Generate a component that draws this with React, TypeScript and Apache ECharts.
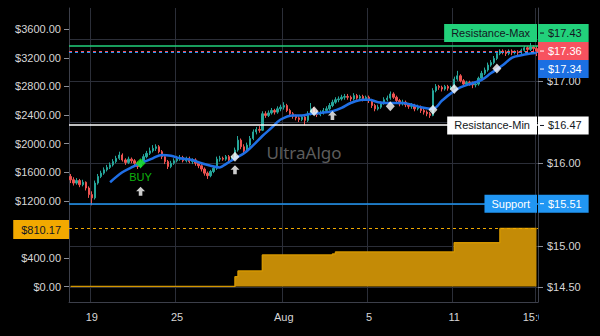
import React, { useEffect, useRef } from 'react';
import * as echarts from 'echarts';

// ---------- data ----------
const tradingDays = [
  '2022-07-18', '2022-07-19', '2022-07-20', '2022-07-21', '2022-07-22',
  '2022-07-25', '2022-07-26', '2022-07-27', '2022-07-28', '2022-07-29',
  '2022-08-01', '2022-08-02', '2022-08-03', '2022-08-04', '2022-08-05',
  '2022-08-08', '2022-08-09', '2022-08-10', '2022-08-11', '2022-08-12',
  '2022-08-15', '2022-08-16',
];
const sessionHours = ['09:30', '10:00', '11:00', '12:00', '13:00', '14:00', '15:00'];
const categories = tradingDays.flatMap((d) => sessionHours.map((h) => `${d} ${h}`));

const xTickLabels: [string, string][] = [
  ['2022-07-19 09:30', '19'],
  ['2022-07-25 09:30', '25'],
  ['2022-08-01 09:30', 'Aug'],
  ['2022-08-05 09:30', '5'],
  ['2022-08-11 09:30', '11'],
  ['2022-08-16 15:00', '15:00'],
];

// [open, close, low, high]
const candles: number[][] = [
  [15.84,15.80,15.76,15.87],[15.80,15.76,15.73,15.83],[15.76,15.79,15.74,15.82],[15.79,15.74,15.71,15.81],[15.74,15.77,15.72,15.80],[15.77,15.70,15.67,15.78],[15.70,15.62,15.58,15.72],
  [15.62,15.58,15.49,15.66],[15.58,15.76,15.56,15.79],[15.76,15.84,15.74,15.87],[15.84,15.88,15.82,15.91],[15.88,15.92,15.86,15.95],[15.92,15.95,15.90,15.98],[15.95,15.98,15.93,16.01],
  [15.98,16.02,15.96,16.05],[16.02,16.06,16.00,16.09],[16.06,16.10,16.04,16.14],[16.10,16.04,16.02,16.12],[16.04,16.01,15.98,16.06],[16.01,16.05,15.99,16.08],[16.05,16.03,16.00,16.07],
  [16.03,16.00,15.97,16.05],[16.00,15.96,15.93,16.02],[15.96,16.02,15.94,16.04],[16.02,16.08,16.00,16.11],[16.08,16.12,16.06,16.15],[16.12,16.15,16.10,16.19],[16.15,16.18,16.13,16.22],
  [16.18,16.20,16.15,16.23],[16.20,16.14,16.12,16.22],[16.14,16.08,16.05,16.16],[16.08,16.02,15.99,16.10],[16.02,15.96,15.93,16.04],[15.96,16.00,15.94,16.03],[16.00,16.03,15.98,16.06],
  [16.03,16.05,16.01,16.09],[16.05,16.07,16.03,16.10],[16.07,16.03,16.01,16.09],[16.03,16.06,16.01,16.08],[16.06,16.02,16.00,16.08],[16.02,16.04,15.99,16.06],[16.04,16.00,15.97,16.06],
  [16.00,15.97,15.94,16.02],[15.97,15.93,15.90,15.99],[15.93,15.88,15.85,15.95],[15.88,15.85,15.81,15.90],[15.85,15.90,15.83,15.92],[15.90,15.94,15.88,15.97],[15.94,16.05,15.92,16.08],
  [16.05,16.06,16.02,16.09],[16.06,16.05,16.03,16.08],[16.05,16.08,16.03,16.10],[16.08,16.04,16.02,16.10],[16.04,16.07,16.02,16.09],[16.07,16.16,16.05,16.19],[16.16,16.28,16.14,16.33],
  [16.28,16.20,16.17,16.30],[16.20,16.15,16.12,16.23],[16.15,16.22,16.13,16.25],[16.22,16.30,16.20,16.33],[16.30,16.38,16.28,16.41],[16.38,16.41,16.35,16.44],[16.41,16.40,16.37,16.45],
  [16.40,16.60,16.39,16.63],[16.60,16.58,16.55,16.63],[16.58,16.61,16.56,16.64],[16.61,16.64,16.59,16.67],[16.64,16.62,16.59,16.66],[16.62,16.66,16.60,16.69],[16.66,16.68,16.63,16.71],
  [16.68,16.70,16.65,16.74],[16.70,16.64,16.62,16.72],[16.64,16.60,16.57,16.66],[16.60,16.57,16.54,16.62],[16.57,16.55,16.52,16.59],[16.55,16.53,16.50,16.57],[16.53,16.56,16.51,16.58],
  [16.56,16.52,16.46,16.58],[16.52,16.60,16.50,16.63],[16.60,16.66,16.58,16.73],[16.66,16.62,16.59,16.68],[16.62,16.59,16.56,16.64],[16.59,16.61,16.57,16.64],[16.61,16.64,16.59,16.67],
  [16.64,16.66,16.62,16.69],[16.66,16.70,16.64,16.73],[16.70,16.74,16.68,16.77],[16.74,16.77,16.72,16.80],[16.77,16.78,16.74,16.81],[16.78,16.80,16.76,16.83],[16.80,16.81,16.77,16.84],
  [16.81,16.80,16.77,16.84],[16.80,16.78,16.75,16.82],[16.78,16.82,16.76,16.85],[16.82,16.79,16.77,16.84],[16.79,16.81,16.77,16.83],[16.81,16.78,16.75,16.83],[16.78,16.80,16.76,16.82],
  [16.80,16.76,16.73,16.82],[16.76,16.70,16.67,16.78],[16.70,16.66,16.63,16.72],[16.66,16.68,16.64,16.71],[16.68,16.73,16.66,16.75],[16.73,16.77,16.71,16.80],[16.77,16.79,16.75,16.82],
  [16.79,16.84,16.77,16.87],[16.84,16.80,16.78,16.86],[16.80,16.76,16.73,16.82],[16.76,16.72,16.69,16.78],[16.72,16.74,16.70,16.77],[16.74,16.71,16.68,16.76],[16.71,16.69,16.66,16.73],
  [16.69,16.70,16.66,16.73],[16.70,16.66,16.63,16.72],[16.66,16.68,16.64,16.71],[16.68,16.64,16.61,16.70],[16.64,16.62,16.59,16.66],[16.62,16.60,16.57,16.64],[16.60,16.58,16.55,16.62],
  [16.58,16.88,16.57,16.91],[16.88,16.93,16.86,16.96],[16.93,16.92,16.89,16.95],[16.92,16.90,16.87,16.94],[16.90,16.93,16.88,16.95],[16.93,16.91,16.88,16.95],[16.91,16.92,16.89,16.94],
  [16.92,17.02,16.91,17.05],[17.02,17.06,17.00,17.12],[17.06,17.00,16.98,17.08],[17.00,16.96,16.94,17.02],[16.96,16.98,16.94,17.00],[16.98,16.97,16.94,17.00],[16.97,16.95,16.91,16.99],
  [16.95,16.96,16.92,16.99],[16.96,17.03,16.94,17.05],[17.03,17.09,17.01,17.12],[17.09,17.13,17.07,17.16],[17.13,17.19,17.11,17.22],[17.19,17.22,17.17,17.25],[17.22,17.27,17.20,17.30],
  [17.27,17.33,17.25,17.36],[17.33,17.36,17.31,17.38],[17.36,17.35,17.32,17.38],[17.35,17.33,17.30,17.37],[17.33,17.36,17.31,17.38],[17.36,17.34,17.31,17.38],[17.34,17.35,17.32,17.37],
  [17.35,17.34,17.31,17.37],[17.34,17.37,17.32,17.39],[17.37,17.40,17.35,17.42],[17.40,17.38,17.35,17.42],[17.38,17.41,17.36,17.46],[17.41,17.39,17.36,17.43],[17.39,17.36,17.30,17.42],
];

// moving average samples: [bar index, value]
const maPoints: number[][] = [
  [13,15.77],[17,15.89],[20,15.95],[23,16.00],[27,16.06],[30,16.10],[33,16.09],[36,16.06],[40,16.04],
  [43,16.00],[46,15.97],[49,15.95],[51,15.99],[54,16.06],[57,16.12],[60,16.22],[63,16.33],[66,16.43],
  [69,16.53],[73,16.58],[76,16.58],[79,16.60],[82,16.61],[86,16.63],[89,16.67],[92,16.73],[96,16.77],
  [98,16.77],[101,16.74],[104,16.73],[109,16.73],[112,16.71],[115,16.68],[119,16.66],[122,16.76],
  [125,16.85],[128,16.92],[132,16.97],[135,17.01],[138,17.09],[142,17.19],[145,17.28],[148,17.31],
  [151,17.33],[153,17.34],
];

// cumulative result steps (left $ axis): [bar index, value]
const profitSteps: number[][] = [
  [0,0],[54,137],[55,217],[63,441],[86,455],[87,483],[126,613],[141,810.17],[153,810.17],
];

const buyDiamond: number[][] = [[23, 16.0]];
const buyArrow: number[][] = [[23, 15.66]];
const whiteDiamonds: number[][] = [[54,16.08],[80,16.63],[105,16.69],[119,16.65],[126,16.9],[140,17.15]];
const whiteArrows: number[][] = [[54,15.92],[86,16.58]];

const resistanceMax = 17.43;
const lastPrice = 17.36;
const maLast = 17.34;
const resistanceMin = 16.47;
const supportLevel = 15.51;
const profitLast = 810.17;

// ---------- styling ----------
const FONT = '"Liberation Sans", Arial, sans-serif';
const LABEL = '#d6d6d6';
const GRIDC = '#2b2e38';
const AXISC = '#3c3f4a';
const LEFT = 69;
const RIGHT = 62;
const W = 600;
const H = 336;
const ARROW = 'path://M5,0 L10,5 L7,5 L7,10 L3,10 L3,5 L0,5 Z';

const labelMap = new Map(xTickLabels);
const isTick = (_i: number, v: string) => labelMap.has(v);
const money = (v: number) => '$' + v.toFixed(2);
const priceTags = [resistanceMax, lastPrice, maLast, resistanceMin, supportLevel];

function buildOption(): any {
  const gridBox = { left: LEFT, right: RIGHT };
  const hiddenX = (i: number) => ({
    type: 'category', gridIndex: i, data: categories, boundaryGap: true, show: false,
  });
  return {
    backgroundColor: '#000000',
    animation: false,
    textStyle: { fontFamily: FONT },
    grid: [
      { ...gridBox, top: 8, bottom: 34 },
      { ...gridBox, top: 39.5, bottom: 49 },
      { ...gridBox, top: 29.3, bottom: 49.5 },
    ],
    xAxis: [
      {
        type: 'category', gridIndex: 0, data: categories, boundaryGap: true,
        axisLine: { show: true, onZero: false, lineStyle: { color: AXISC, width: 1 } },
        axisTick: { show: false },
        axisLabel: {
          interval: isTick, formatter: (v: string) => labelMap.get(v) ?? '',
          color: LABEL, fontSize: 11, margin: 9, fontFamily: FONT,
        },
        splitLine: { show: true, interval: isTick, lineStyle: { color: GRIDC, width: 1 } },
      },
      hiddenX(1),
      hiddenX(2),
    ],
    yAxis: [
      {
        type: 'value', gridIndex: 0, position: 'left', min: 0, max: 1,
        axisLine: { show: true, onZero: false, lineStyle: { color: AXISC } },
        axisTick: { show: false }, axisLabel: { show: false }, splitLine: { show: false },
      },
      {
        type: 'value', gridIndex: 0, position: 'right', min: 0, max: 1,
        axisLine: { show: true, onZero: false, lineStyle: { color: AXISC } },
        axisTick: { show: false }, axisLabel: { show: false }, splitLine: { show: false },
      },
      {
        type: 'value', gridIndex: 1, position: 'right', min: 14.5, max: 17.5, interval: 0.5,
        axisLine: { show: false },
        axisTick: { show: true, length: 5, lineStyle: { color: '#8a8d96' } },
        axisLabel: {
          color: LABEL, fontSize: 11, margin: 9, fontFamily: FONT,
          formatter: (v: number) => (priceTags.some((p) => Math.abs(p - v) < 0.12) ? '' : money(v)),
        },
        splitLine: { show: true, lineStyle: { color: GRIDC, width: 1 } },
      },
      {
        type: 'value', gridIndex: 2, position: 'left', min: 0, max: 3600, interval: 400,
        axisLine: { show: false },
        axisTick: { show: true, length: 5, lineStyle: { color: '#8a8d96' } },
        axisLabel: {
          color: LABEL, fontSize: 11, margin: 8, fontFamily: FONT,
          formatter: (v: number) => (Math.abs(v - profitLast) < 100 ? '' : money(v)),
        },
        splitLine: { show: false },
      },
    ],
    series: [
      {
        type: 'line', xAxisIndex: 2, yAxisIndex: 3, step: 'end', data: profitSteps,
        symbol: 'none', showSymbol: false,
        lineStyle: { color: '#d39600', width: 1.5 },
        areaStyle: { color: '#c48b06', opacity: 1 },
        markLine: {
          silent: true, symbol: ['none', 'none'], label: { show: false },
          data: [{ yAxis: profitLast, lineStyle: { color: '#f0a800', type: [3, 3], width: 1 } }],
        },
        z: 1,
      },
      {
        type: 'candlestick', xAxisIndex: 1, yAxisIndex: 2, data: candles, barWidth: '62%',
        itemStyle: {
          color: '#26a69a', color0: '#ef5350', borderColor: '#26a69a', borderColor0: '#ef5350', borderWidth: 1,
        },
        markLine: {
          silent: true, symbol: ['none', 'none'], label: { show: false },
          data: [
            { yAxis: resistanceMax, lineStyle: { color: '#22d17b', type: 'solid', width: 1.5 } },
            { yAxis: lastPrice, lineStyle: { color: '#f7525f', type: [3, 3], width: 1 } },
            { yAxis: maLast, lineStyle: { color: '#2196f3', type: [3, 3], width: 1 } },
            { yAxis: resistanceMin, lineStyle: { color: '#ffffff', type: 'solid', width: 1.5 } },
            { yAxis: supportLevel, lineStyle: { color: '#2196f3', type: 'solid', width: 1.5 } },
          ],
        },
        z: 2,
      },
      {
        type: 'line', xAxisIndex: 1, yAxisIndex: 2, data: maPoints, smooth: 0.35,
        symbol: 'none', showSymbol: false,
        lineStyle: { color: '#1f6fe5', width: 2.5 }, z: 3,
      },
      {
        type: 'scatter', xAxisIndex: 1, yAxisIndex: 2, data: whiteDiamonds,
        symbol: 'diamond', symbolSize: [9, 10], itemStyle: { color: '#ffffff' }, z: 4,
      },
      {
        type: 'scatter', xAxisIndex: 1, yAxisIndex: 2, data: whiteArrows,
        symbol: ARROW, symbolSize: [9, 9], itemStyle: { color: '#ffffff' }, z: 4,
      },
      {
        type: 'scatter', xAxisIndex: 1, yAxisIndex: 2, data: buyDiamond,
        symbol: 'diamond', symbolSize: [10, 10], itemStyle: { color: '#19e619' }, z: 4,
      },
      {
        type: 'scatter', xAxisIndex: 1, yAxisIndex: 2, data: buyArrow,
        symbol: ARROW, symbolSize: [9, 9], itemStyle: { color: '#ffffff' }, z: 4,
        label: {
          show: true, formatter: 'BUY', position: 'top', distance: 4,
          color: '#12e012', fontSize: 11, fontFamily: FONT,
        },
      },
    ],
  };
}

function buildGraphics(chart: any): any[] {
  const py = (v: number) => chart.convertToPixel({ yAxisIndex: 2 }, v) as number;
  const my = (v: number) => chart.convertToPixel({ yAxisIndex: 3 }, v) as number;
  const axisX = W - RIGHT;
  const yLast = py(lastPrice);

  const rightTag = (v: number, cy: number, bg: string, fg: string) => [
    {
      type: 'text', z: 100, x: axisX, y: cy,
      style: {
        text: money(v), fill: fg, backgroundColor: bg, padding: [3, 7, 3, 10],
        fontSize: 11, lineHeight: 12, fontFamily: FONT, align: 'left', verticalAlign: 'middle',
      },
    },
    {
      type: 'line', z: 101,
      shape: { x1: axisX + 2, y1: cy, x2: axisX + 6, y2: cy },
      style: { stroke: fg, lineWidth: 1 },
    },
  ];
  const nameTag = (t: string, cy: number, bg: string, fg: string) => ({
    type: 'text', z: 100, x: axisX - 1, y: cy,
    style: {
      text: t, fill: fg, backgroundColor: bg, padding: [3, 7, 3, 7],
      fontSize: 11, lineHeight: 12, fontFamily: FONT, align: 'right', verticalAlign: 'middle',
    },
  });

  const yMax = yLast - 18;
  const yMa = yLast + 18;
  const yMin = py(resistanceMin) + 1;
  const ySup = py(supportLevel);
  const yProfit = my(profitLast) + 1;

  return [
    {
      type: 'text', z: 0, x: 304, y: 152,
      style: {
        text: 'UltraAlgo', fill: '#5c5c5c', fontSize: 17, fontFamily: '"Noto Sans", sans-serif',
        align: 'center', verticalAlign: 'middle',
      },
    },
    nameTag('Resistance-Max', yMax, '#22d17b', '#131722'),
    nameTag('Resistance-Min', yMin, '#ffffff', '#131722'),
    nameTag('Support', ySup, '#2196f3', '#ffffff'),
    ...rightTag(resistanceMax, yMax, '#22d17b', '#131722'),
    ...rightTag(lastPrice, yLast, '#f7525f', '#ffffff'),
    ...rightTag(maLast, yMa, '#1b6fe2', '#ffffff'),
    ...rightTag(resistanceMin, yMin, '#ffffff', '#131722'),
    ...rightTag(supportLevel, ySup, '#2196f3', '#ffffff'),
    {
      type: 'text', z: 100, x: LEFT, y: yProfit,
      style: {
        text: money(profitLast), fill: '#131722', backgroundColor: '#f2a900', padding: [3, 8, 3, 8],
        fontSize: 11, lineHeight: 13, fontFamily: FONT, align: 'right', verticalAlign: 'middle',
      },
    },
    {
      type: 'rect', z: 120, shape: { x: axisX + 1, y: 304, width: 70, height: 26 },
      style: { fill: '#000000' },
    },
  ];
}

export default function App() {
  const ref = useRef<HTMLDivElement>(null);
  useEffect(() => {
    const chart = echarts.init(ref.current as HTMLDivElement, null, { renderer: 'svg' });
    chart.setOption(buildOption());
    chart.setOption({ graphic: buildGraphics(chart) });
    return () => chart.dispose();
  }, []);
  return (
    <div
      ref={ref}
      style={{ position: 'fixed', left: 0, top: 0, width: W, height: H, background: '#000' }}
    />
  );
}
